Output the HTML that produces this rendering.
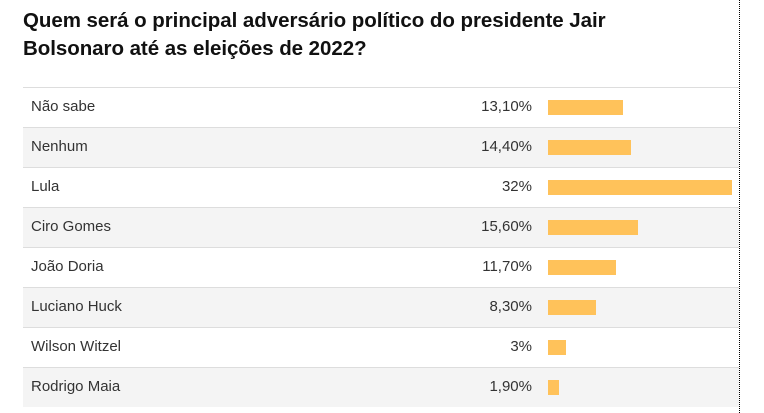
<!DOCTYPE html><html><head><meta charset="utf-8"><style>
body{margin:0;width:764px;height:413px;background:#fff;font-family:"Liberation Sans",sans-serif;position:relative;overflow:hidden}
.t{position:absolute;left:23px;top:7px;font-size:20.5px;font-weight:bold;line-height:28px;color:#111;letter-spacing:-0.05px}
.dot{position:absolute;left:739px;top:0;height:413px;border-left:1px dotted #000}
.r{position:absolute;left:23px;width:716px;height:39px;border-top:1px solid #ddd;font-size:15px;color:#333}
.r.g{background:#f4f4f4}
.l{position:absolute;left:8px;top:10px}
.v{position:absolute;right:207px;top:10px}
.b{position:absolute;left:525px;top:12px;height:15px;background:#ffc25a}
</style></head><body>
<div class="t">Quem será o principal adversário político do presidente Jair<br>Bolsonaro até as eleições de 2022?</div>
<div class="dot"></div>
<div class="r" style="top:87px"><span class="l">Não sabe</span><span class="v">13,10%</span><div class="b" style="width:75px"></div></div>
<div class="r g" style="top:127px"><span class="l">Nenhum</span><span class="v">14,40%</span><div class="b" style="width:83px"></div></div>
<div class="r" style="top:167px"><span class="l">Lula</span><span class="v">32%</span><div class="b" style="width:184px"></div></div>
<div class="r g" style="top:207px"><span class="l">Ciro Gomes</span><span class="v">15,60%</span><div class="b" style="width:90px"></div></div>
<div class="r" style="top:247px"><span class="l">João Doria</span><span class="v">11,70%</span><div class="b" style="width:68px"></div></div>
<div class="r g" style="top:287px"><span class="l">Luciano Huck</span><span class="v">8,30%</span><div class="b" style="width:48px"></div></div>
<div class="r" style="top:327px"><span class="l">Wilson Witzel</span><span class="v">3%</span><div class="b" style="width:18px"></div></div>
<div class="r g" style="top:367px"><span class="l">Rodrigo Maia</span><span class="v">1,90%</span><div class="b" style="width:11px"></div></div>
</body></html>
